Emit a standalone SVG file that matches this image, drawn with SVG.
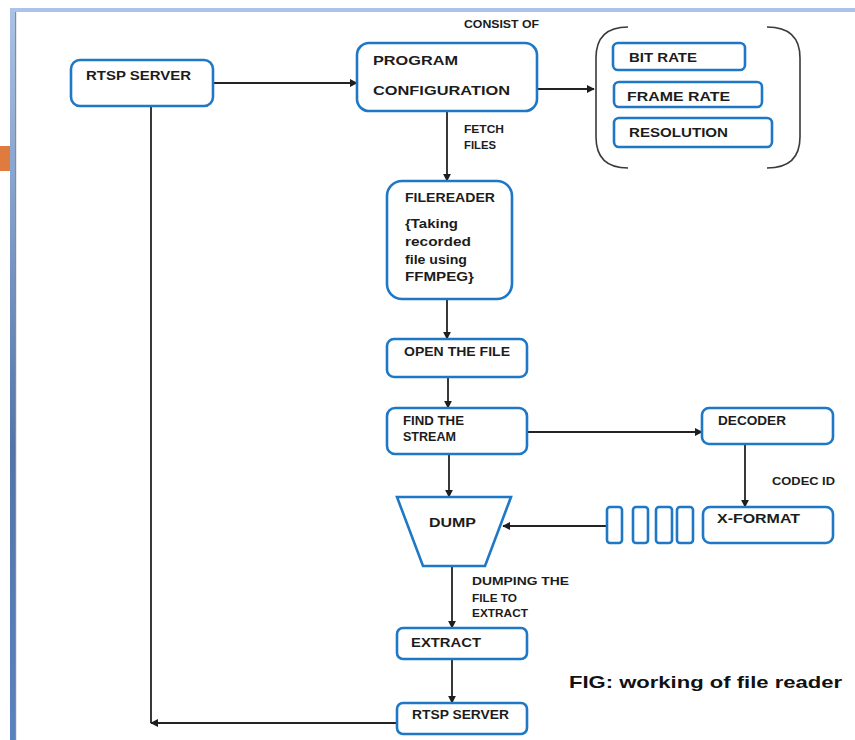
<svg xmlns="http://www.w3.org/2000/svg" width="855" height="740" viewBox="0 0 855 740">
  <defs>
    <linearGradient id="sideBar" x1="0" y1="0" x2="0" y2="1">
      <stop offset="0" stop-color="#a9c2e4"/>
      <stop offset="0.6" stop-color="#5474a8"/>
      <stop offset="1" stop-color="#5a82bf"/>
    </linearGradient>
    <marker id="arrow" viewBox="0 0 10 10" refX="9" refY="5" markerWidth="8" markerHeight="8" markerUnits="userSpaceOnUse" orient="auto">
      <path d="M0,0 L10,5 L0,10 z" fill="#1e1e1e"/>
    </marker>
    <style>
      .box { fill: #ffffff; stroke: #1f78c6; stroke-width: 2.6; }
      .lbl { font-family: "Liberation Sans", Arial, sans-serif; font-weight: bold; font-size: 12.5px; fill: #1c1c1c; }
      .sm { font-family: "Liberation Sans", Arial, sans-serif; font-weight: bold; font-size: 10px; fill: #1c1c1c; }
      .cap { font-family: "Liberation Sans", Arial, sans-serif; font-weight: bold; font-size: 17px; fill: #111111; }
      .wire { fill: none; stroke: #232323; stroke-width: 1.8; }
      .paren { fill: none; stroke: #3a3a3a; stroke-width: 1.6; }
    </style>
  </defs>

  <!-- page frame -->
  <rect x="0" y="0" width="855" height="740" fill="#ffffff"/>
  <rect x="10" y="8" width="845" height="4" fill="#a9c4e8"/>
  <rect x="10" y="12" width="6" height="728" fill="url(#sideBar)"/>
  <rect x="15" y="12" width="1.2" height="728" fill="#8a8a8a"/>
  <rect x="0" y="146" width="10" height="25" fill="#e07b40"/>

  <!-- connectors -->
  <g id="connectors">
    <line class="wire" x1="213" y1="83" x2="357" y2="83" marker-end="url(#arrow)"/>
    <line class="wire" x1="537" y1="89" x2="594" y2="89" marker-end="url(#arrow)"/>
    <line class="wire" x1="447" y1="111" x2="447" y2="181" marker-end="url(#arrow)"/>
    <line class="wire" x1="447" y1="299" x2="447" y2="339" marker-end="url(#arrow)"/>
    <line class="wire" x1="448" y1="377" x2="448" y2="408" marker-end="url(#arrow)"/>
    <line class="wire" x1="527" y1="432" x2="702" y2="432" marker-end="url(#arrow)"/>
    <line class="wire" x1="449" y1="454" x2="449" y2="497" marker-end="url(#arrow)"/>
    <line class="wire" x1="745" y1="444" x2="745" y2="507" marker-end="url(#arrow)"/>
    <line class="wire" x1="607" y1="526" x2="503" y2="526" marker-end="url(#arrow)"/>
    <line class="wire" x1="452" y1="566" x2="452" y2="628" marker-end="url(#arrow)"/>
    <line class="wire" x1="452" y1="659" x2="452" y2="703" marker-end="url(#arrow)"/>
    <line class="wire" x1="151" y1="106" x2="151" y2="723"/>
    <line class="wire" x1="397" y1="723" x2="151" y2="723" marker-end="url(#arrow)"/>
  </g>

  <!-- edge labels -->
  <g id="edge-labels">
    <text class="sm" x="464" y="28" textLength="75" lengthAdjust="spacingAndGlyphs">CONSIST OF</text>
    <text class="sm" x="464" y="133" textLength="40" lengthAdjust="spacingAndGlyphs">FETCH</text>
    <text class="sm" x="464" y="149" textLength="32" lengthAdjust="spacingAndGlyphs">FILES</text>
    <text class="sm" x="772" y="485" textLength="63" lengthAdjust="spacingAndGlyphs">CODEC ID</text>
    <text class="sm" x="472" y="585" textLength="97" lengthAdjust="spacingAndGlyphs">DUMPING THE</text>
    <text class="sm" x="472" y="602" textLength="45" lengthAdjust="spacingAndGlyphs">FILE TO</text>
    <text class="sm" x="472" y="617" textLength="56" lengthAdjust="spacingAndGlyphs">EXTRACT</text>
  </g>

  <g id="rtsp-server-top">
    <rect class="box" x="71" y="60" width="142" height="46" rx="9"/>
    <text class="lbl" x="86" y="80" textLength="105" lengthAdjust="spacingAndGlyphs">RTSP SERVER</text>
  </g>

  <g id="program-configuration">
    <rect class="box" x="357" y="43" width="180" height="68" rx="12"/>
    <text class="lbl" x="373" y="65" textLength="85" lengthAdjust="spacingAndGlyphs">PROGRAM</text>
    <text class="lbl" x="373" y="95" textLength="137" lengthAdjust="spacingAndGlyphs">CONFIGURATION</text>
  </g>

  <g id="parameters">
    <path class="paren" d="M628,27 C606,27 596,38 596,58 V137 C596,157 606,168 628,168"/>
    <path class="paren" d="M767,27 C789,27 800,38 800,58 V137 C800,157 789,168 767,168"/>
  </g>

  <g id="bit-rate">
    <rect class="box" x="613" y="43" width="132" height="27" rx="5"/>
    <text class="lbl" x="629" y="62" textLength="68" lengthAdjust="spacingAndGlyphs">BIT RATE</text>
  </g>

  <g id="frame-rate">
    <rect class="box" x="614" y="82" width="148" height="25" rx="5"/>
    <text class="lbl" x="627" y="101" textLength="103" lengthAdjust="spacingAndGlyphs">FRAME RATE</text>
  </g>

  <g id="resolution">
    <rect class="box" x="614" y="118" width="158" height="29" rx="5"/>
    <text class="lbl" x="629" y="137" textLength="99" lengthAdjust="spacingAndGlyphs">RESOLUTION</text>
  </g>

  <g id="filereader">
    <rect class="box" x="387" y="181" width="125" height="118" rx="15"/>
    <text class="lbl" x="405" y="202" textLength="90" lengthAdjust="spacingAndGlyphs">FILEREADER</text>
    <text class="lbl" x="405" y="228" textLength="53" lengthAdjust="spacingAndGlyphs">{Taking</text>
    <text class="lbl" x="405" y="246" textLength="66" lengthAdjust="spacingAndGlyphs">recorded</text>
    <text class="lbl" x="405" y="264" textLength="62" lengthAdjust="spacingAndGlyphs">file using</text>
    <text class="lbl" x="405" y="281" textLength="69" lengthAdjust="spacingAndGlyphs">FFMPEG}</text>
  </g>

  <g id="open-the-file">
    <rect class="box" x="387" y="339" width="140" height="38" rx="7"/>
    <text class="lbl" x="404" y="356" textLength="106" lengthAdjust="spacingAndGlyphs">OPEN THE FILE</text>
  </g>

  <g id="find-the-stream">
    <rect class="box" x="387" y="408" width="140" height="46" rx="8"/>
    <text class="lbl" x="403" y="425" textLength="61" lengthAdjust="spacingAndGlyphs">FIND THE</text>
    <text class="lbl" x="403" y="441" textLength="53" lengthAdjust="spacingAndGlyphs">STREAM</text>
  </g>

  <g id="decoder">
    <rect class="box" x="702" y="408" width="131" height="36" rx="7"/>
    <text class="lbl" x="718" y="425" textLength="68" lengthAdjust="spacingAndGlyphs">DECODER</text>
  </g>

  <g id="x-format">
    <rect class="box" x="703" y="507" width="130" height="36" rx="7"/>
    <text class="lbl" x="717" y="523" textLength="83" lengthAdjust="spacingAndGlyphs">X-FORMAT</text>
  </g>

  <g id="frame-queue">
    <rect class="box" x="607" y="507" width="15" height="36" rx="3"/>
    <rect class="box" x="633" y="507" width="15" height="36" rx="3"/>
    <rect class="box" x="656" y="507" width="16" height="36" rx="3"/>
    <rect class="box" x="677" y="507" width="16" height="36" rx="3"/>
  </g>

  <g id="dump">
    <polygon class="box" points="397,497 511,497 485,566 423,566"/>
    <text class="lbl" x="429" y="527" textLength="47" lengthAdjust="spacingAndGlyphs">DUMP</text>
  </g>

  <g id="extract">
    <rect class="box" x="397" y="628" width="130" height="31" rx="6"/>
    <text class="lbl" x="411" y="647" textLength="70" lengthAdjust="spacingAndGlyphs">EXTRACT</text>
  </g>

  <g id="rtsp-server-bottom">
    <rect class="box" x="397" y="703" width="130" height="31" rx="6"/>
    <text class="lbl" x="412" y="719" textLength="97" lengthAdjust="spacingAndGlyphs">RTSP SERVER</text>
  </g>

  <text class="cap" x="569" y="688" textLength="273" lengthAdjust="spacingAndGlyphs">FIG: working of file reader</text>
</svg>
